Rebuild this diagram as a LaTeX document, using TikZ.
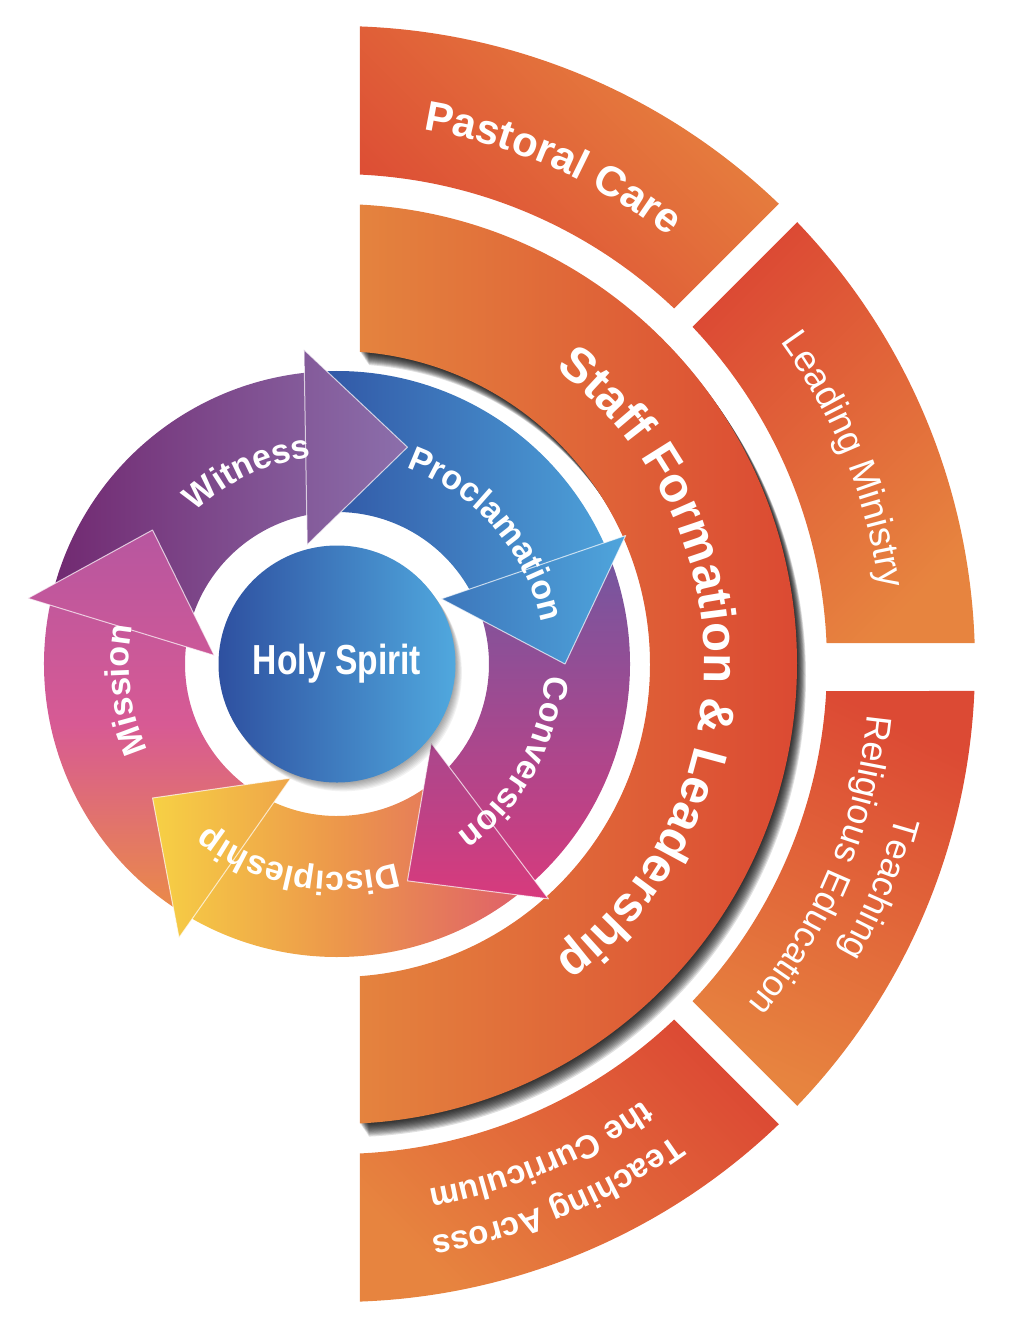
\documentclass[tikz,border=0pt]{standalone}
\usepackage{fontspec}
\setmainfont{Liberation Sans}
\newfontfamily\narrowfont[FakeStretch=0.8]{Liberation Sans}
\usetikzlibrary{decorations.text}

\definecolor{seg-red}{RGB}{220,74,52}
\definecolor{seg-orange}{RGB}{231,132,63}
\definecolor{staff-orange}{RGB}{228,131,62}
\definecolor{staff-red}{RGB}{219,72,50}
\definecolor{wit-dark}{RGB}{112,38,110}
\definecolor{wit-light}{RGB}{140,112,172}
\definecolor{pro-dark}{RGB}{47,82,162}
\definecolor{pro-light}{RGB}{80,168,222}
\definecolor{con-top}{RGB}{110,88,162}
\definecolor{con-bot}{RGB}{217,58,124}
\definecolor{dis-left}{RGB}{247,210,68}
\definecolor{dis-mid}{RGB}{236,150,75}
\definecolor{dis-right}{RGB}{222,92,108}
\definecolor{mis-top}{RGB}{182,86,160}
\definecolor{mis-mid}{RGB}{215,90,148}
\definecolor{mis-bot}{RGB}{236,142,66}
\definecolor{spirit-dark}{RGB}{46,80,160}
\definecolor{spirit-light}{RGB}{80,168,222}

\tikzset{
  witness/.style={left color=wit-dark, right color=wit-light},
  procl/.style={left color=pro-dark, right color=pro-light},
  conv/.style={top color=con-top, bottom color=con-bot},
  disc/.style={left color=dis-left, right color=dis-right, middle color=dis-mid},
  miss/.style={top color=mis-top, bottom color=mis-bot, middle color=mis-mid},
  curved/.style={decorate, decoration={text along path, text align=center, text color=white, text={#1}}}
}

% outer bands: start line angle, offset, end line angle, offset
\newcommand\setband[4]{%
  \pgfmathsetmacro\ba{#1+asin(#2/638)}%
  \pgfmathsetmacro\bb{#3-asin(#4/638)}%
  \pgfmathsetmacro\bc{#3-asin(#4/490)}%
  \pgfmathsetmacro\bd{#1+asin(#2/490)}}
\newcommand\bandpath{(\ba:638) arc[start angle=\ba, end angle=\bb, radius=638] -- (\bc:490) arc[start angle=\bc, end angle=\bd, radius=490] -- cycle}

\newcommand\staffpath{(\ta:460) arc[start angle=\ta, end angle=\tb, radius=460] -- (\tc:313) arc[start angle=\tc, end angle=\td, radius=313] -- cycle}

% cycle arrows, #1 = angle of the tip
\def\cycbody#1{(#1-96:293) arc[start angle=#1-96, end angle=#1-23, radius=293] -- (#1-29:152) arc[start angle=#1-29, end angle=#1-100, radius=152] -- cycle}
\def\cychead#1{(#1-24:316) -- (#1:228) -- (#1-32:123) -- cycle}

\newcommand\cyclabel{\fontsize{17}{20}\selectfont\bfseries}

\begin{document}
\begin{tikzpicture}[x=0.5pt, y=-0.5pt]
  \useasboundingbox (0,0) rectangle (1026,1344);
  \begin{scope}[shift={(337,664)}]
    % outer bands
    \setband{-90}{23}{-45}{13}
    \shade[top color=seg-orange, bottom color=seg-red, shading angle=-45] \bandpath;
    \setband{-45}{13}{0}{21}
    \shade[top color=seg-red, bottom color=seg-orange, shading angle=45] \bandpath;
    \setband{0}{27}{45}{13}
    \shade[top color=seg-red, bottom color=seg-orange, shading angle=-25] \bandpath;
    \setband{45}{13}{90}{23}
    \shade[top color=seg-red, bottom color=seg-orange, shading angle=-45] \bandpath;

    \path[curved={|\fontsize{21}{25}\selectfont\bfseries|Pastoral Care}] (-106.5:541) arc[start angle=-106.5, end angle=-26.5, radius=541];
    \path[curved={|\fontsize{18.5}{22}\selectfont|Leading Ministry}] (-62:548) arc[start angle=-62, end angle=18, radius=548];
    \path[curved={|\fontsize{18}{21}\selectfont|Teaching}] (-17.5:580) arc[start angle=-17.5, end angle=62.5, radius=580];
    \path[curved={|\fontsize{18}{21}\selectfont|Religious Education}] (-17.5:533) arc[start angle=-17.5, end angle=62.5, radius=533];
    \path[curved={|\fontsize{16.5}{20}\selectfont\bfseries|Teaching Across}] (27.5:580) arc[start angle=27.5, end angle=107.5, radius=580];
    \path[curved={|\fontsize{16.5}{20}\selectfont\bfseries|the Curriculum}] (27.5:533) arc[start angle=27.5, end angle=107.5, radius=533];

    % staff ring with its shadow
    \pgfmathsetmacro\ta{-90+asin(23/460)}
    \pgfmathsetmacro\tb{90-asin(23/460)}
    \pgfmathsetmacro\tc{90-asin(23/313)}
    \pgfmathsetmacro\td{-90+asin(23/313)}
    \foreach \k in {1,...,12}
      \fill[black, opacity=0.12, shift={(\k*0.75,\k*1.1)}] \staffpath;
    \shade[left color=staff-orange, right color=staff-red] \staffpath;
    \path[curved={|\fontsize{24.5}{29}\selectfont\bfseries|Staff Formation {\&} Leadership}] (-80:367) arc[start angle=-80, end angle=80, radius=367];

    % cycle
    \foreach \tip/\sty/\xa/\ya/\xb/\yb in {288/witness/-300/-330/75/-10, 0/procl/-35/-320/300/10, 72/conv/60/-125/300/240, 144/disc/-190/95/200/295, 216/miss/-315/-140/-55/260}
    {
      \begin{scope}
        \clip \cycbody{\tip};
        \shade[\sty] (\xa,\ya) rectangle (\xb,\yb);
      \end{scope}
    }
    \foreach \tip/\sty/\xa/\ya/\xb/\yb in {288/witness/-300/-330/75/-10, 0/procl/-35/-320/300/10, 72/conv/60/-125/300/240, 144/disc/-190/95/200/295, 216/miss/-315/-140/-55/260}
    {
      \begin{scope}
        \clip \cychead{\tip};
        \shade[\sty] (\xa,\ya) rectangle (\xb,\yb);
      \end{scope}
      \draw[white, opacity=0.7, line width=0.5pt, line join=round] \cychead{\tip};
    }
    \path[curved={|\cyclabel|Witness}] (185:208) arc[start angle=185, end angle=305, radius=208];
    \path[curved={|\cyclabel|Proclamation}] (-101:208) arc[start angle=-101, end angle=19, radius=208];
    \path[curved={|\cyclabel|Conversion}] (-31:208) arc[start angle=-31, end angle=89, radius=208];
    \path[curved={|\cyclabel|Discipleship}] (41:208) arc[start angle=41, end angle=161, radius=208];
    \path[curved={|\cyclabel|Mission}] (113:208) arc[start angle=113, end angle=233, radius=208];

    % centre
    \foreach \k in {1,...,8}
      \fill[black, opacity=0.05] (\k*0.8,\k*1.1) circle[radius=118.5];
    \node[circle, minimum size=118.5pt, inner sep=0pt, left color=spirit-dark, right color=spirit-light,
          text=white, font=\fontsize{21}{24}\selectfont\narrowfont\bfseries] (spirit) at (0,0) {Holy Spirit};
  \end{scope}
\end{tikzpicture}
\end{document}
